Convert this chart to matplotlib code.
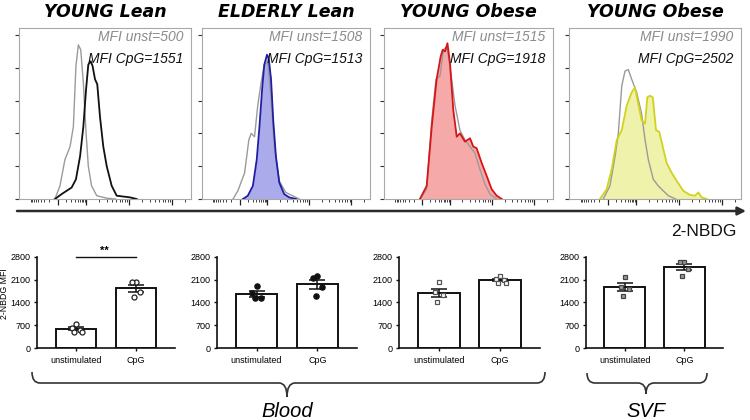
import matplotlib
matplotlib.use('Agg')
import matplotlib.pyplot as plt
import numpy as np
from matplotlib.path import Path
from matplotlib.patches import PathPatch

plt.rcParams['font.family'] = ['Liberation Sans', 'DejaVu Sans']

# ---------------- data ----------------
hist_titles = ['YOUNG Lean', 'ELDERLY Lean', 'YOUNG Obese', 'YOUNG Obese']
mfi_unst = [500, 1508, 1515, 1990]
mfi_cpg = [1551, 1513, 1918, 2502]

# histogram curves (x: display position 0-100, y: counts)
h1_unst_x = [20.9, 23.8, 26.7, 29.7, 31.6, 33.1, 34.5, 35.9, 37.4, 39.0, 40.3, 42.2, 45.2, 51.0, 56.0]
h1_unst_y = [0, 8, 24, 32, 44, 81, 94, 91, 71, 40, 20, 8, 2, 0.5, 0]
h1_cpg_x = [20.9, 24.8, 27.7, 30.6, 33.1, 35.5, 37.4, 39.0, 40.3, 41.7, 42.8, 44.2, 45.5, 47.1, 49.0, 51.0, 53.9, 56.8, 64.5, 68.4]
h1_cpg_y = [0, 3, 5, 7, 12, 26, 44, 67, 82, 84, 81, 73, 70, 50, 32, 20, 8, 2, 1, 0]

h2_unst_x = [18.6, 21.5, 25.5, 28.0, 29.4, 31.4, 33.3, 35.3, 37.2, 39.2, 41.2, 43.1, 46.1, 50.0, 53.9, 58.0]
h2_unst_y = [0, 5, 16, 36, 40, 38, 57, 71, 82, 83, 61, 32, 11, 4, 2, 0]
h2_cpg_x = [24.5, 27.4, 30.4, 32.7, 34.3, 35.9, 37.2, 38.8, 39.8, 41.2, 42.5, 44.1, 46.1, 49.0, 52.0, 56.0]
h2_cpg_y = [0, 2, 8, 24, 44, 67, 82, 88, 86, 73, 48, 26, 10, 3, 1, 0]

h3_unst_x = [21.3, 25.3, 28.3, 30.8, 33.2, 35.2, 37.2, 39.1, 42.1, 45.0, 48.0, 51.0, 53.9, 56.9, 59.9, 62.8, 66.8]
h3_unst_y = [0, 6, 48, 73, 75, 91, 93, 81, 57, 42, 36, 32, 28, 18, 9, 3, 0]
h3_cpg_x = [21.3, 25.3, 28.3, 31.2, 33.6, 34.8, 36.2, 37.6, 39.1, 41.1, 43.1, 45.0, 48.0, 51.0, 52.9, 54.9, 57.9, 60.9, 63.8, 66.8, 69.8]
h3_cpg_y = [0, 8, 44, 73, 87, 91, 90, 95, 83, 54, 38, 40, 35, 37, 32, 31, 22, 14, 6, 2, 0]

h4_unst_x = [19.8, 23.7, 26.7, 28.6, 30.6, 32.5, 34.4, 36.4, 39.3, 42.2, 44.2, 46.1, 49.0, 51.9, 54.8, 57.8, 62.0]
h4_unst_y = [0, 8, 26, 40, 69, 78, 79, 73, 65, 52, 36, 24, 12, 8, 5, 2, 0]
h4_cpg_x = [17.9, 21.8, 24.7, 27.7, 30.6, 33.5, 36.4, 38.3, 39.9, 42.2, 44.2, 45.5, 47.1, 48.7, 50.6, 52.5, 54.5, 56.8, 59.7, 62.7, 66.5, 70.4, 73.3, 75.3, 77.2, 80.2]
h4_cpg_y = [0, 6, 18, 36, 42, 57, 65, 68, 60, 48, 46, 62, 63, 62, 42, 41, 32, 22, 16, 11, 5, 2.5, 2, 4, 1, 0]

# bar panels: individual donors
bar_categories = ['unstimulated', 'CpG']
p1_unst = [750, 610, 560, 500, 500]
p1_cpg = [2015, 2015, 1730, 1555]
p2_unst = [1910, 1680, 1525, 1525]
p2_cpg = [2220, 2140, 1860, 1605]
p3_unst = [2015, 1730, 1625, 1400]
p3_cpg = [2200, 2110, 2100, 2000, 1990]
p4_unst = [2170, 1880, 1800, 1595]
p4_cpg = [2650, 2650, 2415, 2220]
y_ticks = [0, 700, 1400, 2100, 2800]
group_labels = ['Blood', 'SVF']

# ---------------- figure ----------------
W, H = 750, 420
fig = plt.figure(figsize=(7.5, 4.2), dpi=100)


def px_axes(l, r, t, b):
    return fig.add_axes([l / W, 1 - b / H, (r - l) / W, (b - t) / H])


hist_boxes = [(19, 191), (201.7, 370), (384, 552.7), (569.3, 740.7)]
hist_data = [(h1_unst_x, h1_unst_y, h1_cpg_x, h1_cpg_y),
             (h2_unst_x, h2_unst_y, h2_cpg_x, h2_cpg_y),
             (h3_unst_x, h3_unst_y, h3_cpg_x, h3_cpg_y),
             (h4_unst_x, h4_unst_y, h4_cpg_x, h4_cpg_y)]
edge_cols = ['#111111', '#1f1fa6', '#d91414', '#d2d21c']
fill_cols = [None, '#ababec', '#f6a9a9', '#eef2aa']

majors = [22.5, 39, 64, 89]
minors = []
for k in range(2, 10):
    minors.append(22.5 - 16.5 * np.log10(k))
    minors.append(22.5 + 16.5 * np.log10(k))
    minors.append(39 + 25 * np.log10(k))
    minors.append(64 + 25 * np.log10(k))
    v = 89 + 25 * np.log10(k)
    if v < 100:
        minors.append(v)

for i, (l, r) in enumerate(hist_boxes):
    ax = px_axes(l, r, 28, 199)
    ux, uy, cx, cy = hist_data[i]
    if fill_cols[i]:
        ax.fill_between(cx, cy, color=fill_cols[i], lw=0, zorder=1)
    ax.plot(ux, uy, color='#9a9a9a', lw=1.0, zorder=2)
    ax.plot(cx, cy, color=edge_cols[i], lw=1.3, zorder=3)
    ax.set_xlim(0, 100)
    ax.set_ylim(0, 104.3)
    ax.set_yticks([0, 20, 40, 60, 80, 100])
    ax.set_yticklabels([])
    ax.set_xticks(majors)
    ax.set_xticks(minors, minor=True)
    ax.set_xticklabels([])
    ax.tick_params(axis='y', length=3, width=0.8, color='#333333', direction='out')
    ax.tick_params(axis='x', which='major', length=4, width=0.9, color='#222222', direction='out')
    ax.tick_params(axis='x', which='minor', length=2.5, width=0.6, color='#222222', direction='out')
    for sp in ax.spines.values():
        sp.set_color('#a8a8a8')
        sp.set_linewidth(0.8)
    ax.set_title(hist_titles[i], fontsize=12.5, fontweight='bold', fontstyle='italic', pad=8,
                 family=['DejaVu Sans'])
    ax.text(0.955, 0.922, f'MFI unst={mfi_unst[i]}', transform=ax.transAxes, ha='right',
            va='baseline', fontsize=10, fontstyle='italic', color='#8c8c8c')
    ax.text(0.955, 0.794, f'MFI CpG={mfi_cpg[i]}', transform=ax.transAxes, ha='right',
            va='baseline', fontsize=10, fontstyle='italic', color='#111111')

# ---------------- bar panels ----------------
bar_boxes = [(37, 175), (217, 357), (399, 540), (586, 723)]
bar_data = [(p1_unst, p1_cpg), (p2_unst, p2_cpg), (p3_unst, p3_cpg), (p4_unst, p4_cpg)]
mk_style = [dict(marker='o', mfc='white', mec='#222222', ms=3.6, mew=0.9),
            dict(marker='o', mfc='#111111', mec='#111111', ms=3.8, mew=0.9),
            dict(marker='s', mfc='white', mec='#555555', ms=3.3, mew=0.9),
            dict(marker='s', mfc='#9a9a9a', mec='#444444', ms=3.3, mew=0.9)]
offsets_pattern = [0.0, -0.07, 0.07, -0.03, 0.1]

bar_axes = []
for i, (l, r) in enumerate(bar_boxes):
    ax = px_axes(l, r, 256.7, 348)
    bar_axes.append(ax)
    groups = bar_data[i]
    means = [np.mean(g) for g in groups]
    sems = [np.std(g, ddof=1) / np.sqrt(len(g)) for g in groups]
    xs = np.arange(len(bar_categories))
    ax.bar(xs, means, width=0.68, color='white', edgecolor='#111111', linewidth=1.4, zorder=1)
    ax.errorbar(xs, means, yerr=sems, fmt='none', ecolor='#111111', elinewidth=1.1,
                capsize=5.5, capthick=1.1, zorder=3)
    for j, g in enumerate(groups):
        order = np.argsort(g)[::-1]
        for rank, idx in enumerate(order):
            ax.plot(xs[j] + offsets_pattern[rank % len(offsets_pattern)], g[idx],
                    linestyle='none', zorder=4, **mk_style[i])
    ax.set_xlim(-0.65, 1.65)
    ax.set_ylim(0, 2800)
    ax.set_yticks(y_ticks)
    ax.set_yticklabels([str(t) for t in y_ticks], fontsize=6.5)
    ax.set_xticks(xs)
    ax.set_xticklabels(bar_categories, fontsize=6.5)
    ax.tick_params(axis='both', length=2.5, width=1.0, pad=2, color='#111111')
    ax.tick_params(axis='x', pad=3)
    for s in ['top', 'right']:
        ax.spines[s].set_visible(False)
    for s in ['left', 'bottom']:
        ax.spines[s].set_linewidth(1.2)
        ax.spines[s].set_color('#111111')
    ax.set_facecolor('none')

bar_axes[0].set_ylabel('2-NBDG MFI', fontsize=6.3)
bar_axes[0].yaxis.set_label_coords(-0.205, 0.6)
ax0 = bar_axes[0]
ax0.plot([0, 1], [2800, 2800], color='#111111', lw=1.0, clip_on=False)
ax0.text(0.47, 2830, '**', ha='center', va='bottom', fontsize=8, fontweight='bold', clip_on=False)

# ---------------- overlay: arrow, brackets, labels ----------------
ov = fig.add_axes([0, 0, 1, 1], zorder=10)
ov.set_xlim(0, W)
ov.set_ylim(H, 0)
ov.axis('off')
ov.patch.set_alpha(0)

ov.annotate('', xy=(746, 211), xytext=(17, 211),
            arrowprops=dict(arrowstyle='-|>', color='#2b2b2b', lw=1.8, mutation_scale=12,
                            shrinkA=0, shrinkB=0))
ov.text(737, 235.5, '2-NBDG', ha='right', va='baseline', fontsize=12.5, color='#111111')


def brace(x0, x1, xm, ytop, ymid, ytip):
    c = 8
    verts = [(x0, ytop), (x0, ymid), (x0 + c, ymid),
             (xm - c, ymid), (xm, ymid), (xm, ytip),
             (xm, ymid), (xm + c, ymid),
             (x1 - c, ymid), (x1, ymid), (x1, ytop)]
    codes = [Path.MOVETO, Path.CURVE3, Path.CURVE3,
             Path.LINETO, Path.CURVE3, Path.CURVE3,
             Path.CURVE3, Path.CURVE3,
             Path.LINETO, Path.CURVE3, Path.CURVE3]
    ov.add_patch(PathPatch(Path(verts, codes), fill=False, edgecolor='#333333', lw=1.2))


brace(32, 545, 287, 372, 383, 397)
brace(587, 707, 646, 373, 383, 394)
ov.text(287, 417, group_labels[0], ha='center', va='baseline', fontsize=14.5, fontstyle='italic')
ov.text(646, 417, group_labels[1], ha='center', va='baseline', fontsize=14.5, fontstyle='italic')

fig.savefig('out.png', dpi=100)
